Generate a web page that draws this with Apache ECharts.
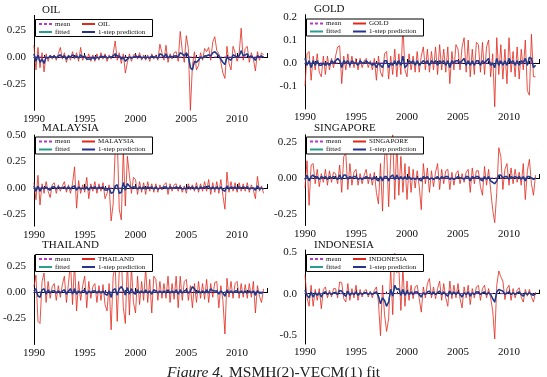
<!DOCTYPE html>
<html>
<head>
<meta charset="utf-8">
<script src="https://cdn.jsdelivr.net/npm/echarts@6/dist/echarts.min.js"></script>
<style>
  html, body { margin: 0; padding: 0; background: #fff; }
  #chart { width: 547px; height: 377px; }
</style>
</head>
<body>
<div id="chart"></div>
<script>
// observations every 0.2 years starting 1990.0
const startYear = 1990;
const step = 0.2;
const yearTicks = [1990, 1995, 2000, 2005, 2010];

const oilActual = [
  0.11, -0.12, 0.09, -0.10, 0.04,
  -0.14, 0.03, -0.04, 0.02, -0.02,
  0.02, -0.03, 0.03, 0.09, -0.02,
  0.04, -0.05, 0.02, -0.03, 0.05,
  -0.02, 0.04, -0.04, 0.09, -0.03,
  0.02, -0.03, 0.03, -0.04, 0.02,
  -0.04, 0.03, -0.03, 0.04, -0.02,
  0.03, -0.04, 0.02, -0.02, 0.03,
  0.15, -0.03, 0.04, -0.06, 0.03,
  -0.15, -0.05, 0.03, -0.04, 0.02,
  0.03, -0.02, 0.04, -0.03, 0.02,
  -0.03, 0.02, -0.04, 0.03, -0.02,
  0.02, -0.03, 0.12, 0.04, -0.03,
  0.11, -0.05, 0.03, -0.02, 0.04,
  0.05, -0.04, 0.24, 0.06, -0.05,
  0.20, 0.08, -0.50, -0.08, 0.05,
  -0.12, -0.08, 0.04, -0.03, 0.08,
  0.05, 0.09, -0.03, 0.14, 0.19,
  0.06, 0.03, -0.05, -0.15, -0.20,
  0.10, -0.06, -0.12, 0.10, 0.04,
  -0.04, 0.03, 0.27, -0.03, 0.08,
  0.10, -0.05, 0.04, -0.02, -0.13,
  0.05, -0.03, 0.04, 0.02
];
const oilPred = [
  0.03, -0.04, 0.02, -0.05, -0.02,
  -0.06, 0.00, -0.01, 0.01, 0.00,
  0.01, -0.01, 0.01, 0.02, 0.00,
  0.01, -0.02, 0.01, 0.00, 0.02,
  0.00, 0.01, -0.01, 0.02, 0.00,
  0.01, -0.02, -0.02, -0.02, 0.00,
  -0.02, 0.00, -0.01, 0.01, 0.00,
  0.01, -0.01, 0.00, 0.00, 0.01,
  0.03, 0.01, 0.01, -0.02, 0.00,
  -0.04, -0.02, 0.00, -0.01, 0.00,
  0.01, 0.00, 0.01, -0.01, 0.00,
  -0.01, 0.00, -0.01, 0.01, 0.00,
  0.00, -0.01, 0.03, 0.02, 0.00,
  0.03, -0.01, 0.01, 0.00, 0.01,
  0.01, 0.00, 0.04, 0.03, 0.01,
  0.04, 0.01, -0.10, -0.12, -0.04,
  -0.05, -0.03, 0.00, -0.01, 0.01,
  0.01, 0.02, 0.01, 0.04, 0.05,
  0.03, 0.01, -0.02, -0.05, -0.07,
  0.00, -0.02, -0.03, 0.02, 0.01,
  0.00, 0.01, 0.06, 0.01, 0.02,
  0.03, 0.00, 0.01, -0.01, -0.03,
  0.01, 0.00, 0.01, 0.00
];

const goldActual = [
  -0.10, 0.04, 0.05, -0.075, 0.03,
  -0.03, 0.04, -0.04, -0.06, 0.03,
  -0.05, 0.03, -0.03, 0.02, -0.02,
  0.03, 0.07, 0.075, -0.09, 0.03,
  -0.03, 0.04, -0.02, 0.03, -0.02,
  0.02, -0.03, 0.02, -0.02, 0.01,
  0.02, -0.02, 0.01, -0.03, 0.02,
  -0.075, 0.03, -0.04, -0.06, 0.04,
  0.05, -0.07, 0.03, -0.05, 0.06,
  -0.06, 0.04, -0.05, 0.16, -0.03,
  -0.06, 0.04, -0.03, 0.03, -0.04,
  0.05, -0.04, 0.03, 0.07, -0.03,
  0.06, -0.04, 0.05, -0.03, 0.07,
  -0.05, 0.08, -0.03, 0.06, -0.04,
  0.07, -0.09, 0.05, -0.03, 0.08,
  0.06, -0.03, 0.07, 0.11, -0.04,
  0.10, -0.06, 0.06, -0.05, 0.09,
  0.08, -0.04, 0.09, -0.05, 0.07,
  0.10, -0.06, 0.04, -0.19, 0.11,
  -0.05, 0.08, -0.07, 0.06, -0.09,
  0.11, -0.04, 0.05, -0.06, 0.07,
  -0.07, 0.06, -0.03, 0.10, -0.12,
  -0.14, 0.125, -0.06, -0.06
];
const goldPred = [
  0.02, -0.01, 0.01, -0.02, 0.01,
  -0.01, 0.01, -0.01, -0.01, 0.00,
  -0.01, 0.00, -0.01, 0.01, 0.00,
  0.01, 0.02, 0.01, -0.02, 0.01,
  0.00, 0.01, -0.01, 0.01, 0.00,
  0.00, -0.01, 0.01, 0.00, 0.00,
  0.01, 0.00, 0.00, -0.01, 0.00,
  -0.02, 0.00, -0.01, -0.02, 0.01,
  0.01, -0.02, 0.00, -0.01, 0.01,
  -0.01, 0.01, -0.01, 0.03, -0.02,
  -0.01, 0.01, 0.00, 0.01, -0.01,
  0.01, -0.01, 0.00, 0.01, 0.00,
  0.01, -0.01, 0.01, 0.00, 0.01,
  -0.01, 0.01, 0.00, 0.01, -0.01,
  0.01, -0.02, 0.01, 0.00, 0.01,
  0.01, 0.00, 0.01, 0.02, -0.01,
  0.01, -0.01, 0.01, -0.01, 0.01,
  0.01, -0.01, 0.01, 0.00, 0.01,
  0.02, -0.01, 0.00, -0.02, 0.02,
  -0.01, 0.01, -0.01, 0.01, -0.01,
  0.02, 0.00, 0.01, -0.01, 0.01,
  -0.01, 0.01, 0.00, 0.02, -0.01,
  0.025, 0.02, -0.02, -0.01
];

const malaysiaActual = [
  0.05, -0.11, 0.12, -0.16, 0.04,
  -0.05, 0.06, -0.03, -0.09, 0.03,
  0.05, -0.05, 0.03, -0.03, 0.02,
  0.06, -0.04, 0.03, -0.05, 0.04,
  0.20, -0.19, 0.07, -0.05, 0.03,
  -0.04, 0.10, -0.10, 0.04, -0.03,
  0.06, -0.05, 0.04, -0.03, 0.05,
  -0.10, -0.05, 0.03, -0.31, -0.15,
  0.36, 0.48, -0.20, -0.30, 0.37,
  -0.17, 0.30, 0.12, -0.05, 0.10,
  0.08, -0.06, 0.06, -0.04, 0.05,
  -0.06, 0.06, -0.03, 0.04, -0.04,
  0.04, -0.04, 0.03, -0.02, 0.03,
  0.05, -0.06, 0.04, -0.03, 0.03,
  0.04, -0.03, 0.03, -0.04, 0.02,
  -0.05, 0.04, -0.02, 0.03, -0.03,
  0.05, -0.04, 0.04, -0.03, 0.06,
  -0.03, 0.08, -0.06, 0.05, -0.04,
  0.06, -0.05, 0.08, -0.07, -0.20,
  0.15, -0.04, 0.06, -0.03, 0.05,
  -0.04, 0.05, -0.03, 0.04, -0.03,
  0.05, -0.04, 0.03, -0.02, -0.10,
  0.11, -0.03, 0.02, -0.05
];
const malaysiaPred = [
  0.02, -0.03, 0.02, -0.03, 0.01,
  -0.01, 0.01, -0.01, -0.02, 0.01,
  0.01, -0.01, 0.01, 0.00, 0.00,
  0.01, -0.01, 0.01, -0.01, 0.01,
  0.02, -0.02, 0.01, -0.01, 0.00,
  -0.01, 0.01, -0.02, 0.01, 0.00,
  0.01, -0.01, 0.01, 0.00, 0.01,
  -0.02, -0.02, 0.00, -0.05, -0.04,
  0.02, 0.03, -0.05, -0.04, 0.05,
  -0.02, 0.04, 0.02, 0.00, 0.01,
  0.01, -0.01, 0.01, -0.01, 0.01,
  -0.01, 0.01, 0.00, 0.01, -0.01,
  0.01, -0.01, 0.00, 0.00, 0.01,
  0.01, -0.01, 0.01, 0.00, 0.00,
  0.01, 0.00, 0.01, -0.01, 0.00,
  -0.01, 0.01, 0.00, 0.01, -0.01,
  0.01, -0.01, 0.01, 0.00, 0.01,
  0.00, 0.02, -0.01, 0.01, -0.01,
  0.01, -0.01, 0.01, -0.02, -0.03,
  0.02, -0.01, 0.01, 0.00, 0.01,
  -0.01, 0.01, 0.00, 0.01, 0.00,
  0.01, -0.01, 0.00, 0.00, -0.02,
  0.02, -0.01, 0.00, -0.01
];

const singaporeActual = [
  -0.07, 0.12, -0.19, 0.09, 0.10,
  -0.04, 0.06, -0.06, 0.03, -0.03,
  0.06, -0.05, 0.05, -0.03, 0.04,
  0.03, -0.04, 0.09, -0.10, 0.15,
  0.17, -0.08, 0.10, -0.05, 0.04,
  0.06, -0.05, 0.03, -0.04, 0.02,
  0.06, -0.04, 0.03, -0.05, 0.04,
  -0.10, -0.18, 0.10, -0.23, 0.15,
  0.21, -0.20, 0.14, 0.30, -0.15,
  0.25, -0.12, 0.15, -0.10, 0.10,
  -0.15, 0.08, -0.10, 0.06, -0.07,
  0.05, -0.06, -0.22, 0.10, -0.04,
  0.07, -0.10, 0.05, -0.06, 0.04,
  0.10, -0.08, 0.06, -0.04, 0.05,
  0.06, -0.08, 0.04, -0.05, 0.03,
  0.05, -0.04, 0.03, -0.03, 0.04,
  0.06, -0.10, 0.07, -0.04, 0.05,
  0.05, -0.06, -0.12, 0.08, -0.05,
  0.06, -0.08, -0.22, -0.31, -0.10,
  0.21, 0.15, -0.08, 0.06, 0.10,
  -0.05, 0.07, -0.04, 0.06, -0.03,
  0.04, -0.05, 0.10, -0.15, 0.05,
  0.13, -0.04, -0.12, 0.02
];
const singaporePred = [
  -0.01, 0.02, -0.02, 0.01, 0.02,
  0.00, 0.01, -0.01, 0.01, 0.00,
  0.01, -0.01, 0.01, 0.00, 0.01,
  0.00, -0.01, 0.02, -0.01, 0.02,
  0.02, -0.01, 0.01, 0.00, 0.01,
  0.01, -0.01, 0.00, -0.01, 0.00,
  0.01, 0.00, 0.00, -0.01, 0.01,
  -0.01, -0.02, 0.01, -0.02, 0.01,
  0.01, -0.02, 0.01, 0.02, -0.01,
  0.02, -0.01, 0.01, -0.01, 0.01,
  -0.01, 0.01, -0.01, 0.00, -0.01,
  0.00, -0.01, -0.02, 0.01, 0.00,
  0.01, -0.01, 0.00, -0.01, 0.00,
  0.01, -0.01, 0.01, 0.00, 0.01,
  0.01, -0.01, 0.00, -0.01, 0.00,
  0.01, 0.00, 0.00, -0.01, 0.01,
  0.01, -0.02, 0.01, 0.00, 0.01,
  0.01, -0.01, -0.02, 0.01, -0.01,
  0.01, -0.02, -0.03, -0.04, -0.02,
  0.02, 0.02, 0.00, 0.01, 0.01,
  -0.01, 0.01, 0.00, 0.01, 0.00,
  0.01, -0.01, 0.01, -0.02, 0.01,
  0.01, 0.00, -0.01, 0.00
];

const thailandActual = [
  0.05, 0.16, -0.28, -0.30, 0.10,
  0.18, -0.10, 0.10, -0.06, 0.05,
  0.08, -0.08, 0.06, -0.05, 0.07,
  0.15, -0.10, 0.08, 0.28, -0.12,
  0.28, -0.18, 0.10, -0.08, 0.06,
  0.15, -0.15, 0.10, -0.06, 0.05,
  0.08, -0.10, 0.06, -0.08, 0.07,
  -0.12, -0.18, 0.08, -0.36, 0.15,
  0.25, -0.28, 0.20, 0.35, -0.15,
  -0.30, 0.30, -0.22, 0.24, -0.10,
  -0.20, 0.15, -0.12, 0.10, -0.08,
  0.23, -0.10, 0.12, -0.20, 0.15,
  0.12, -0.08, 0.10, -0.06, 0.08,
  -0.06, 0.15, -0.10, 0.08, -0.07,
  0.15, -0.15, 0.15, -0.08, 0.10,
  0.12, -0.08, 0.06, -0.15, 0.08,
  -0.10, 0.10, -0.06, 0.08, -0.07,
  0.12, -0.10, 0.08, -0.05, 0.09,
  0.10, -0.15, 0.06, -0.08, -0.40,
  0.13, -0.05, 0.10, -0.06, 0.08,
  0.10, -0.06, 0.08, -0.05, 0.07,
  -0.06, 0.08, -0.05, 0.10, -0.20,
  0.06, -0.04, -0.10, 0.03
];
const thailandPred = [
  0.01, 0.03, -0.04, -0.05, 0.02,
  0.03, -0.02, 0.02, -0.01, 0.01,
  0.01, -0.01, 0.01, -0.01, 0.01,
  0.02, -0.02, 0.01, 0.03, -0.02,
  0.03, -0.02, 0.01, -0.01, 0.01,
  0.02, -0.02, 0.01, -0.01, 0.01,
  0.01, -0.01, 0.01, -0.01, 0.01,
  -0.02, -0.03, 0.01, -0.05, 0.02,
  0.03, -0.03, 0.03, 0.05, 0.02,
  -0.03, 0.04, -0.02, 0.03, -0.01,
  -0.02, 0.02, -0.01, 0.01, -0.01,
  0.02, -0.01, 0.01, -0.02, 0.02,
  0.01, -0.01, 0.01, -0.01, 0.01,
  -0.01, 0.02, -0.01, 0.01, -0.01,
  0.02, -0.02, 0.02, -0.01, 0.01,
  0.02, -0.01, 0.01, 0.05, 0.03,
  -0.01, 0.01, -0.01, 0.01, -0.01,
  0.02, -0.01, 0.03, 0.01, 0.01,
  0.01, -0.02, 0.01, -0.01, -0.04,
  0.02, -0.01, 0.01, -0.01, 0.01,
  0.01, -0.01, 0.01, -0.01, 0.01,
  -0.01, 0.01, -0.01, 0.01, -0.03,
  0.01, -0.01, -0.01, 0.00
];

const indonesiaActual = [
  0.22, -0.05, -0.15, 0.10, -0.15,
  0.05, -0.08, 0.06, -0.18, 0.05,
  0.08, -0.05, 0.04, -0.04, 0.06,
  0.06, -0.05, 0.14, 0.13, -0.06,
  -0.10, 0.12, -0.08, 0.06, -0.05,
  0.10, -0.08, 0.05, -0.04, 0.03,
  0.05, -0.04, 0.03, -0.05, 0.04,
  0.08, -0.10, -0.50, 0.10, -0.25,
  -0.45, -0.30, 0.30, -0.25, 0.48,
  0.25, 0.30, -0.20, 0.30, -0.15,
  0.15, -0.08, 0.10, -0.06, 0.08,
  0.10, -0.06, -0.22, 0.08, -0.05,
  0.12, 0.18, -0.05, 0.08, -0.06,
  0.06, 0.15, -0.08, 0.12, -0.05,
  -0.15, 0.15, -0.06, 0.10, -0.05,
  0.12, -0.06, -0.17, 0.08, -0.05,
  0.10, -0.13, 0.06, -0.05, 0.08,
  0.10, -0.08, 0.06, 0.10, -0.05,
  0.06, -0.05, -0.20, -0.54, 0.10,
  0.27, 0.20, 0.15, -0.07, 0.06,
  0.10, -0.08, 0.06, -0.05, 0.04,
  0.07, -0.04, -0.10, 0.05, -0.03,
  0.05, -0.04, -0.10, 0.02
];
const indonesiaPred = [
  0.04, -0.02, -0.05, 0.02, -0.04,
  0.01, -0.02, 0.01, -0.04, 0.01,
  0.02, -0.01, 0.01, -0.01, 0.01,
  0.01, -0.01, 0.04, 0.03, -0.01,
  -0.03, 0.03, -0.02, 0.01, -0.01,
  0.02, -0.02, 0.01, -0.01, 0.01,
  0.01, -0.01, 0.01, -0.01, 0.01,
  0.02, -0.03, -0.12, -0.05, -0.08,
  -0.15, -0.10, 0.05, -0.03, 0.10,
  0.05, 0.06, -0.02, 0.05, -0.02,
  0.03, -0.01, 0.02, -0.01, 0.02,
  0.02, -0.01, -0.04, 0.01, -0.01,
  0.02, 0.03, -0.01, 0.02, -0.01,
  0.01, 0.03, -0.01, 0.02, -0.01,
  -0.03, 0.03, -0.01, 0.02, -0.01,
  0.02, -0.01, -0.04, 0.01, -0.01,
  0.02, -0.03, 0.01, -0.01, 0.02,
  0.02, -0.01, 0.01, 0.02, -0.01,
  0.01, -0.01, -0.06, -0.10, 0.02,
  0.05, 0.04, 0.03, -0.01, 0.01,
  0.02, -0.01, 0.01, -0.01, 0.01,
  0.02, -0.01, -0.03, 0.01, -0.01,
  0.01, -0.01, -0.02, 0.00
];

const oilTicks = [-0.25, 0, 0.25];
const goldTicks = [-0.1, 0, 0.1, 0.2];
const malaysiaTicks = [-0.25, 0, 0.25, 0.5];
const singaporeTicks = [-0.25, 0, 0.25];
const thailandTicks = [-0.25, 0, 0.25];
const indonesiaTicks = [-0.5, 0, 0.5];

const meanLevels = [0.0, 0.0, 0.0, 0.0, 0.0, 0.0];

const serif = "'Liberation Serif', 'DejaVu Serif', serif";
const RED = '#e0281c';
const BLUE = '#26348f';
const TEAL = '#2a9d8f';
const PURPLE = '#b03cc8';

const panels = [
  { name: 'OIL', actual: oilActual, pred: oilPred, ticks: oilTicks, dec: 2,
    left: 33, top: 15.4, height: 95, min: -0.5, max: 0.39, titleTop: 5, box: [35, 19] },
  { name: 'GOLD', actual: goldActual, pred: goldPred, ticks: goldTicks, dec: 1,
    left: 305, top: 14.7, height: 94.3, min: -0.2, max: 0.21, titleTop: 4, box: [306, 18.5] },
  { name: 'MALAYSIA', actual: malaysiaActual, pred: malaysiaPred, ticks: malaysiaTicks, dec: 2,
    left: 33, top: 135, height: 91.2, min: -0.36, max: 0.5, titleTop: 123, box: [35, 136.5] },
  { name: 'SINGAPORE', actual: singaporeActual, pred: singaporePred, ticks: singaporeTicks, dec: 2,
    left: 305, top: 134.8, height: 90.7, min: -0.33, max: 0.3, titleTop: 123, box: [306, 136.5] },
  { name: 'THAILAND', actual: thailandActual, pred: thailandPred, ticks: thailandTicks, dec: 2,
    left: 33, top: 255.2, height: 89.3, min: -0.5, max: 0.35, titleTop: 239.5, box: [35, 254] },
  { name: 'INDONESIA', actual: indonesiaActual, pred: indonesiaPred, ticks: indonesiaTicks, dec: 1,
    left: 305, top: 250, height: 94, min: -0.6, max: 0.52, titleTop: 240, box: [306, 254] }
];

const toPairs = arr => arr.map((v, i) => [startYear + i * step, v]);

const grid = [], xAxis = [], yAxis = [], series = [], legend = [], title = [], graphic = [];

panels.forEach((p, k) => {
  grid.push({ left: p.left, top: p.top, width: 234.6, height: p.height });
  xAxis.push({
    type: 'value', gridIndex: k, min: 1990, max: 2013, interval: 5,
    axisLine: { lineStyle: { color: '#000', width: 1 } },
    axisTick: { inside: true, length: 4, lineStyle: { color: '#000' } },
    minorTick: { show: true, splitNumber: 5, length: 2, lineStyle: { color: '#000' } },
    splitLine: { show: false },
    axisLabel: {
      margin: 3, color: '#111', fontFamily: serif, fontSize: 11,
      formatter: v => yearTicks.indexOf(v) >= 0 ? String(v) : ''
    }
  });
  yAxis.push({
    type: 'value', gridIndex: k, min: p.min, max: p.max, interval: 0.01,
    axisLine: { show: true, lineStyle: { color: '#000', width: 1 } },
    axisTick: { show: false },
    splitLine: { show: false },
    axisLabel: {
      margin: 8, color: '#111', fontFamily: serif, fontSize: 11,
      formatter: v => p.ticks.some(t => Math.abs(t - v) < 1e-6) ? v.toFixed(p.dec) : ''
    }
  });
  const n = p.actual.length;
  series.push({
    name: p.name, type: 'line', xAxisIndex: k, yAxisIndex: k,
    data: toPairs(p.actual), symbol: 'none', z: 2,
    lineStyle: { color: RED, width: 0.8 }, itemStyle: { color: RED }
  });
  series.push({
    name: 'mean', type: 'line', xAxisIndex: k, yAxisIndex: k,
    data: [[startYear, meanLevels[k]], [startYear + (n - 1) * step, meanLevels[k]]],
    symbol: 'none', z: 3,
    lineStyle: { color: PURPLE, width: 1, type: [3, 2] }, itemStyle: { color: PURPLE }
  });
  series.push({
    name: 'fitted', type: 'line', xAxisIndex: k, yAxisIndex: k,
    data: toPairs(p.pred), symbol: 'none', z: 4,
    lineStyle: { color: TEAL, width: 1.2 }, itemStyle: { color: TEAL }
  });
  series.push({
    name: '1-step prediction', type: 'line', xAxisIndex: k, yAxisIndex: k,
    data: toPairs(p.pred), symbol: 'none', z: 5,
    lineStyle: { color: BLUE, width: 1.4 }, itemStyle: { color: BLUE }
  });

  title.push({
    text: p.name, left: p.left + 9, top: p.titleTop, padding: 0,
    textStyle: { fontFamily: serif, fontSize: 11, fontWeight: 'normal', color: '#111' }
  });

  const [bx, by] = p.box;
  graphic.push({
    type: 'rect', shape: { x: bx + 0.5, y: by + 0.5, width: 117, height: 17 },
    style: { fill: '#fff', stroke: '#000', lineWidth: 1 }, z: 10
  });
  const legendStyle = {
    orient: 'vertical', padding: 0, itemGap: 1, itemWidth: 13, itemHeight: 6,
    itemStyle: { opacity: 0, borderWidth: 0 },
    textStyle: { fontFamily: serif, fontSize: 7, color: '#111', padding: [0, 0, 0, -2] },
    z: 11, selectedMode: false
  };
  legend.push(Object.assign({}, legendStyle, {
    left: bx + 3, top: by + 1.5, data: ['mean', 'fitted']
  }));
  legend.push(Object.assign({}, legendStyle, {
    left: bx + 46, top: by + 1.5, data: [p.name, '1-step prediction']
  }));
});

title.push({
  text: '{i|Figure 4.} {n|MSMH(2)-VECM(1) fit}',
  left: 'center', top: 364, padding: 0,
  textStyle: {
    fontWeight: 'normal',
    rich: {
      i: { fontFamily: serif, fontSize: 15.5, fontStyle: 'italic', fontWeight: 'normal', color: '#222' },
      n: { fontFamily: serif, fontSize: 15.5, fontWeight: 'normal', color: '#222' }
    }
  }
});

const chart = echarts.init(document.getElementById('chart'), null, { renderer: 'canvas' });
chart.setOption({
  backgroundColor: '#fff',
  animation: false,
  title, grid, xAxis, yAxis, series, legend, graphic
});
</script>
</body>
</html>
